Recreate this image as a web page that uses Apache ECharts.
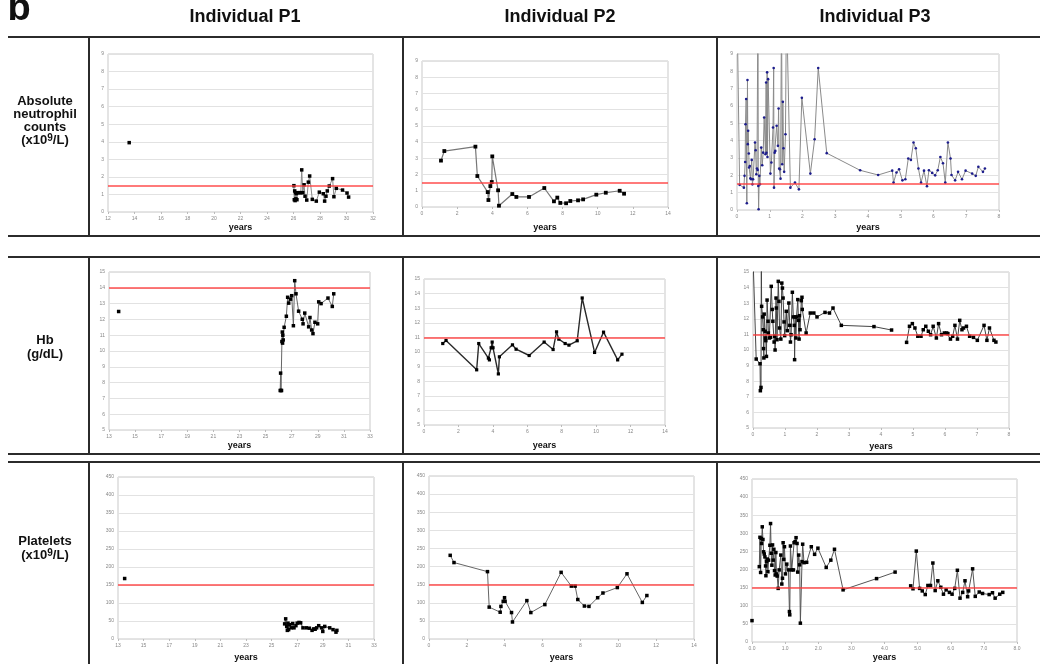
<!DOCTYPE html>
<html><head><meta charset="utf-8">
<script src="https://cdn.jsdelivr.net/npm/echarts@6/dist/echarts.min.js"></script>
<style>html,body{margin:0;padding:0;background:#fff}#c{width:1040px;height:664px}</style>
</head><body><div id="c"></div>
<script>
// ---------- text ----------
const panelLetter = 'b';
const colTitles = ['Individual P1', 'Individual P2', 'Individual P3'];
const rowLabels = [
  ['Absolute', 'neutrophil', 'counts', '(x10{s|9}/L)'],
  ['Hb', '(g/dL)'],
  ['Platelets', '(x10{s|9}/L)']
];
const xAxisTitle = 'years';

// ---------- axes: [min, max, interval] ----------
const xTicksP1 = [12, 32, 2];
const xTicksP2 = [0, 14, 2];
const xTicksP3 = [0, 8, 1];
const xTicksHbP1 = [13, 33, 2];
const xTicksPltP1 = [13, 33, 2];
const yTicksAnc = [0, 9, 1];
const yTicksHb = [5, 15, 1];
const yTicksPlt = [0, 450, 50];

// ---------- reference (red) lines ----------
const refAnc = [1.5, 1.5, 1.5];
const refHb = [14, 11, 11];
const refPlt = [150, 150, 150];

// ---------- data: [years, value], split into connected segments ----------
const ancP1 = [
  [[13.6, 3.95]],
  [[26.03,1.5],[26.06,0.7],[26.09,1.2],[26.12,0.65],[26.15,1.1],[26.18,0.75],[26.22,1.05],[26.26,0.7],[26.3,1.1],[26.45,1.1],[26.55,1.1],[26.62,2.4],[26.7,1.1],[26.8,1.55],[26.87,0.9],[27.0,0.68],[27.12,1.7],[27.22,2.05],[27.42,0.72],[27.72,0.62],[27.95,1.13],[28.25,1.04],[28.35,0.62],[28.45,0.9],[28.55,1.2],[28.7,1.48],[28.95,1.9],[29.05,0.87],[29.23,1.35],[29.7,1.25],[30.04,1.08],[30.16,0.85]]
];
const ancP2 = [
  [[1.08,2.86],[1.27,3.45],[3.04,3.72],[3.15,1.91],[3.74,0.92],[3.78,0.43],[3.89,1.29],[3.97,1.54],[4.0,3.12],[4.33,1.03],[4.38,0.08],[5.14,0.8],[5.37,0.62],[6.09,0.62],[6.96,1.17],[7.51,0.35],[7.7,0.58],[7.87,0.25],[8.2,0.23],[8.44,0.37],[8.88,0.41],[9.17,0.47],[9.92,0.76],[10.46,0.88],[11.25,1.0],[11.5,0.82]]
];
const ancP3 = [
  [[0,12],[0.08,1.45],[0.21,1.29],[0.23,1.97],[0.25,2.77],[0.26,4.95],[0.28,6.4],[0.30,0.39],[0.32,7.5],[0.33,3.8],[0.34,4.57],[0.36,3.26],[0.37,2.45],[0.39,2.54],[0.41,1.83],[0.43,1.77],[0.45,2.89],[0.47,1.48],[0.49,1.77],[0.55,3.89],[0.57,3.45],[0.59,2.06],[0.61,2.39],[0.63,2.31],[0.64,12],[0.65,1.39],[0.66,0.04],[0.68,1.97],[0.70,1.48],[0.74,3.6],[0.77,2.58],[0.80,3.31],[0.83,5.34],[0.87,3.22],[0.89,7.36],[0.90,3.3],[0.92,7.94],[0.93,3.06],[0.95,7.55],[1.02,2.1],[1.05,2.74],[1.10,4.76],[1.12,8.19],[1.13,1.29],[1.15,3.31],[1.17,3.41],[1.21,4.86],[1.25,3.7],[1.27,5.86],[1.29,2.39],[1.31,2.35],[1.33,1.81],[1.36,12],[1.38,2.64],[1.40,6.24],[1.42,3.56],[1.44,2.2],[1.48,4.37],[1.51,12],[1.55,12],[1.63,1.29],[1.77,1.58],[1.89,1.19],[1.98,6.47],[2.24,2.1],[2.37,4.08],[2.48,8.19],[2.74,3.28],[3.76,2.29],[4.31,2.02],[4.74,2.27],[4.78,1.58],[4.87,2.16],[4.95,2.35],[5.05,1.71],[5.14,1.77],[5.23,2.97],[5.31,2.89],[5.39,3.89],[5.46,3.56],[5.54,2.39],[5.62,1.58],[5.71,2.27],[5.80,1.37],[5.86,2.29],[5.96,2.14],[6.05,2.0],[6.13,2.29],[6.21,3.06],[6.29,2.7],[6.36,1.58],[6.44,3.89],[6.52,2.97],[6.55,2.02],[6.66,1.71],[6.75,2.2],[6.87,1.77],[6.98,2.27],[7.18,2.1],[7.29,1.97],[7.37,2.49],[7.51,2.2],[7.57,2.39]]
];
const hbP1 = [
  [[13.74, 12.5]],
  [[26.12,7.5],[26.15,8.6],[26.18,7.5],[26.22,7.5],[26.25,10.6],[26.28,11.2],[26.3,10.5],[26.32,11.0],[26.35,10.7],[26.42,11.5],[26.59,12.2],[26.69,13.4],[26.77,13.03],[26.92,13.28],[27.0,13.5],[27.13,11.6],[27.23,14.45],[27.33,13.62],[27.53,12.52],[27.81,12.01],[27.87,11.72],[28.0,12.4],[28.3,11.53],[28.4,12.12],[28.53,11.33],[28.63,11.1],[28.78,11.82],[28.99,11.72],[29.07,13.11],[29.25,13.0],[29.78,13.35],[30.11,12.82],[30.22,13.62]]
];
const hbP2 = [
  [[1.09,10.58],[1.28,10.79],[3.06,8.78],[3.18,10.58],[3.74,9.58],[3.8,9.46],[3.9,10.29],[3.96,10.68],[4.01,10.29],[4.32,8.5],[4.38,9.67],[5.14,10.49],[5.35,10.19],[6.11,9.76],[6.98,10.68],[7.5,10.17],[7.7,11.38],[7.83,10.88],[8.2,10.58],[8.42,10.47],[8.9,10.77],[9.19,13.7],[9.91,9.97],[10.43,11.36],[11.25,9.46],[11.5,9.85]]
];
const hbP3 = [
  [[0,16],[0.1,9.42],[0.22,9.12],[0.23,7.39],[0.25,7.6],[0.26,16],[0.27,12.8],[0.3,12.12],[0.32,11.3],[0.33,10.09],[0.34,9.49],[0.35,12.3],[0.38,11.2],[0.39,10.77],[0.4,10.6],[0.42,9.59],[0.44,13.2],[0.47,11.84],[0.48,11.09],[0.51,10.77],[0.55,10.81],[0.57,14.08],[0.6,12.6],[0.62,11.84],[0.66,10.51],[0.68,10.88],[0.69,10.0],[0.72,13.33],[0.73,12.69],[0.75,10.66],[0.79,14.4],[0.81,13.12],[0.83,11.41],[0.87,10.7],[0.9,14.29],[0.92,13.97],[0.94,13.33],[0.97,11.8],[0.99,10.92],[1.04,12.48],[1.07,11.24],[1.12,13.01],[1.15,11.58],[1.17,10.51],[1.19,10.98],[1.23,13.7],[1.26,12.12],[1.29,11.58],[1.3,9.38],[1.32,12.12],[1.34,10.77],[1.36,12.12],[1.4,13.23],[1.42,11.9],[1.44,10.7],[1.45,12.2],[1.47,11.3],[1.51,13.16],[1.53,13.38],[1.54,12.6],[1.66,11.09],[1.79,12.37],[1.9,12.37],[2.0,12.12],[2.25,12.41],[2.39,12.37],[2.5,12.69],[2.76,11.58],[3.78,11.5],[4.33,11.28]],
  [[4.8,10.49],[4.89,11.52],[4.98,11.69],[5.06,11.41],[5.15,10.88],[5.25,10.88],[5.32,11.3],[5.4,11.52],[5.48,11.2],[5.55,10.98],[5.63,11.52],[5.73,10.77],[5.8,11.69],[5.89,10.98],[5.98,11.09],[6.05,11.09],[6.09,11.05],[6.17,10.7],[6.24,10.88],[6.31,11.58],[6.39,10.7],[6.46,11.9],[6.53,11.3],[6.58,11.41],[6.67,11.52],[6.77,10.88],[6.89,10.81],[7.01,10.62],[7.22,11.58],[7.31,10.62],[7.39,11.41],[7.53,10.62],[7.59,10.51]]
];
const pltP1 = [
  [[13.52, 168]],
  [[26.02,42],[26.1,56],[26.18,35],[26.23,24],[26.28,44],[26.33,26],[26.4,40],[26.54,31],[26.65,43],[26.75,31],[26.9,37],[27.0,44],[27.14,46],[27.27,45],[27.45,31],[27.71,31],[27.95,30],[28.16,24],[28.29,28],[28.4,27],[28.52,31],[28.68,37],[28.9,31],[29.0,21],[29.15,35],[29.54,31],[29.8,26],[30.03,19],[30.1,24]]
];
const pltP2 = [
  [[1.12,231],[1.32,211],[3.09,186],[3.18,88],[3.76,74],[3.8,90],[3.92,104],[3.99,114],[4.02,104],[4.36,73],[4.41,47],[5.17,106],[5.38,73],[6.12,95],[6.98,184],[7.52,146],[7.72,146],[7.86,109],[8.21,91],[8.45,90],[8.91,114],[9.19,127],[9.95,142],[10.46,180],[11.27,101],[11.51,120]]
];
const pltP3 = [
  [[0.0, 59]],
  [[0.22,208],[0.24,289],[0.26,192],[0.28,286],[0.29,272],[0.31,318],[0.33,283],[0.35,249],[0.37,243],[0.39,235],[0.41,210],[0.42,183],[0.44,222],[0.46,229],[0.48,194],[0.5,226],[0.54,267],[0.56,327],[0.58,245],[0.6,212],[0.62,268],[0.64,226],[0.66,256],[0.68,197],[0.7,185],[0.72,247],[0.74,188],[0.76,182],[0.79,148],[0.82,199],[0.87,240],[0.9,160],[0.92,176],[0.94,274],[0.96,228],[0.98,263],[1.01,188],[1.05,215],[1.1,199],[1.13,84],[1.14,75],[1.16,265],[1.2,199],[1.25,199],[1.27,274],[1.3,277],[1.33,288],[1.36,272],[1.38,193],[1.41,240],[1.44,213],[1.46,52],[1.51,222],[1.53,270],[1.57,219],[1.65,220],[1.79,263],[1.89,242],[1.99,259],[2.24,206],[2.38,226],[2.49,256],[2.75,144],[3.76,175],[4.32,193]],
  [[4.79,155],[4.86,147],[4.96,251],[5.06,148],[5.14,141],[5.23,131],[5.31,156],[5.39,156],[5.46,218],[5.53,142],[5.61,169],[5.7,151],[5.78,132],[5.86,144],[5.96,137],[6.04,132],[6.12,148],[6.2,198],[6.28,121],[6.36,137],[6.43,169],[6.51,125],[6.54,141],[6.66,202],[6.74,126],[6.86,138],[6.96,134],[7.16,131],[7.26,136],[7.34,121],[7.48,132],[7.57,137]]
];

// ---------- layout & style ----------
const FONT = "'Liberation Sans', Arial, sans-serif";
const TITLE_FONT = "'Liberation Sans Narrow', 'Liberation Sans', Arial, sans-serif";
const panels = [
  {d: ancP1, x: xTicksP1, y: yTicksAnc, r: refAnc[0], l:108, t:54, w:265, h:158, gap:11.5, lc:'#8a8a8a', lw:1, sym:'rect', ss:3.5, sc:'#000'},
  {d: ancP2, x: xTicksP2, y: yTicksAnc, r: refAnc[1], l:422, t:61, w:246, h:146, gap:16.5, lc:'#777', lw:1.2, sym:'rect', ss:3.8, sc:'#000'},
  {d: ancP3, x: xTicksP3, y: yTicksAnc, r: refAnc[2], l:737, t:54, w:262, h:156, gap:13.5, lc:'#8a8a8a', lw:1, sym:'circle', ss:2.6, sc:'#1c1c8c'},
  {d: hbP1, x: xTicksHbP1, y: yTicksHb, r: refHb[0], l:109, t:272, w:261, h:158, gap:11.5, lc:'#666', lw:1, sym:'rect', ss:3.5, sc:'#000'},
  {d: hbP2, x: xTicksP2, y: yTicksHb, r: refHb[1], l:424, t:279, w:241, h:146, gap:16.5, lc:'#2a2a2a', lw:1.4, sym:'rect', ss:3.2, sc:'#000'},
  {d: hbP3, x: xTicksP3, y: yTicksHb, r: refHb[2], l:753, t:272, w:256, h:156, gap:14, lc:'#444', lw:1, sym:'rect', ss:3.5, sc:'#000'},
  {d: pltP1, x: xTicksPltP1, y: yTicksPlt, r: refPlt[0], l:118, t:477, w:256, h:162, gap:14.5, lc:'#444', lw:1, sym:'rect', ss:3.5, sc:'#000'},
  {d: pltP2, x: xTicksP2, y: yTicksPlt, r: refPlt[1], l:429, t:476, w:265, h:163, gap:14.5, lc:'#666', lw:1, sym:'rect', ss:3.5, sc:'#000'},
  {d: pltP3, x: xTicksP3, y: yTicksPlt, r: refPlt[2], l:752, t:479, w:265, h:163, gap:11.5, lc:'#555', lw:1, sym:'rect', ss:3.5, sc:'#000', fmt: v => v.toFixed(1)}
];

const grid = [], xAxis = [], yAxis = [], series = [];
panels.forEach((p, i) => {
  grid.push({left:p.l, top:p.t, width:p.w, height:p.h, show:true, borderColor:'#c9c9c9', borderWidth:1, backgroundColor:'#fff'});
  xAxis.push({
    gridIndex:i, type:'value', min:p.x[0], max:p.x[1], interval:p.x[2],
    axisLine:{show:false}, axisTick:{show:true, length:2, lineStyle:{color:'#bbb'}},
    splitLine:{show:false},
    axisLabel:{fontSize:5, color:'#888', margin:4, fontFamily:FONT, formatter: p.fmt || (v => String(v))},
    name:xAxisTitle, nameLocation:'middle', nameGap:p.gap,
    nameTextStyle:{fontSize:9, fontWeight:'bold', color:'#111', fontFamily:FONT}
  });
  yAxis.push({
    gridIndex:i, type:'value', min:p.y[0], max:p.y[1], interval:p.y[2],
    axisLine:{show:false}, axisTick:{show:false},
    splitLine:{show:true, lineStyle:{color:'#e2e2e2', width:1}},
    axisLabel:{fontSize:5, color:'#888', margin:4, fontFamily:FONT}
  });
  p.d.forEach((seg, k) => {
    const s = {
      type:'line', xAxisIndex:i, yAxisIndex:i, data:seg,
      symbol:p.sym, symbolSize:p.ss, showAllSymbol:true,
      itemStyle:{color:p.sc}, lineStyle:{color:p.lc, width:p.lw},
      clip:true, silent:true, animation:false, z:3
    };
    if (k === 0) {
      s.markLine = {
        silent:true, symbol:['none','none'], label:{show:false}, animation:false,
        lineStyle:{color:'#ff3b3b', width:1.6, type:'solid', opacity:0.9},
        emphasis:{disabled:true},
        data:[{yAxis:p.r}]
      };
    }
    series.push(s);
  });
});

// ---------- table frame & texts ----------
const LC = '#2b2b2b';
const hLine = (y) => ({type:'line', shape:{x1:8, y1:y, x2:1040, y2:y}, style:{stroke:LC, lineWidth:2}, silent:true});
const vLine = (x, y1, y2) => ({type:'line', shape:{x1:x, y1:y1, x2:x, y2:y2}, style:{stroke:LC, lineWidth:2}, silent:true});
const rowSpans = [[37, 236], [257, 454], [462, 664]];
const graphic = [];
[37, 236, 257, 454, 462].forEach(y => graphic.push(hLine(y)));
rowSpans.forEach(([a, b]) => [89, 403, 717].forEach(x => graphic.push(vLine(x, a, b))));

const txt = (x, y, text, font) => ({
  type:'text', x:x, y:y, silent:true,
  style:{text:text, fill:'#111', font:font, align:'center', verticalAlign:'middle'}
});
graphic.push(txt(19, 10, panelLetter, 'bold 38px ' + FONT));
[245, 560, 875].forEach((x, i) => graphic.push(txt(x, 17, colTitles[i], 'bold 18px ' + TITLE_FONT)));

const rowLabelY = [[101, 114, 127, 140], [340, 354], [541, 555]];
rowLabels.forEach((lines, r) => {
  lines.forEach((line, j) => {
    graphic.push({
      type:'text', x:45, y:rowLabelY[r][j], silent:true,
      style:{
        text:line, fill:'#111', font:'bold 13px ' + FONT, align:'center', verticalAlign:'middle',
        rich:{s:{fontSize:10, fontWeight:'bold', fontFamily:FONT, fill:'#111', verticalAlign:'top', lineHeight:12}}
      }
    });
  });
});

const chart = echarts.init(document.getElementById('c'), null, {renderer:'canvas'});
chart.setOption({
  animation:false, backgroundColor:'#fff',
  grid, xAxis, yAxis, series, graphic
});
</script>
</body></html>
